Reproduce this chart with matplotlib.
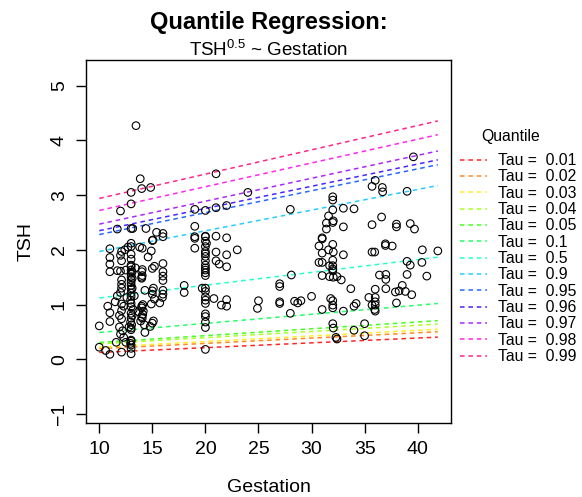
import matplotlib
matplotlib.use("Agg")
import matplotlib.pyplot as plt
import numpy as np

plt.rcParams['font.family'] = ['Liberation Sans', 'DejaVu Sans']
plt.rcParams['mathtext.fontset'] = 'custom'
plt.rcParams['mathtext.rm'] = 'Liberation Sans'
plt.rcParams['mathtext.default'] = 'regular'

# observations: gestation (weeks) and sqrt(TSH)
gestation = [
    # 10 - 11
    10.0, 10.0, 10.6, 11.0, 11.0, 11.0, 11.0, 11.0, 10.8, 11.0, 11.0,
    # 11.5 - 12.5
    11.7, 12.0, 12.1, 12.4, 12.1, 11.7, 12.0, 12.5, 12.1, 12.1, 12.1, 11.7, 12.6, 11.5,
    12.1, 12.3, 12.1, 11.9, 12.2, 12.0, 11.6, 12.5, 12.1, 12.0, 11.9, 12.1, 12.0, 12.3,
    # 13
    13.0, 13.0, 13.0, 13.15, 13.46, 12.7, 13.0, 13.0, 13.0, 13.0, 13.0, 13.0, 13.0, 13.0,
    13.0, 13.0, 13.0, 13.0, 13.0, 13.0, 13.0, 13.3, 12.95, 13.0, 13.0, 13.2, 13.0, 13.0,
    12.95, 13.05, 12.8, 13.0, 13.0, 13.0, 13.0, 12.95, 13.0, 13.0, 13.0, 13.4, 13.1, 13.1,
    13.1, 13.1,
    # 14
    13.86, 14.0, 14.4, 13.8, 14.05, 14.05, 14.05, 14.0, 14.3, 13.7, 14.0, 14.15, 14.0,
    14.05, 14.25, 14.3, 14.0, 14.0, 14.1, 14.0, 14.1, 13.9,
    # 15
    14.84, 15.4, 15.06, 14.6, 15.0, 15.2, 15.0, 14.9, 15.0, 15.1, 15.0, 14.9, 15.1, 15.0,
    15.2, 14.8,
    # 16
    16.0, 16.0, 16.0, 16.0, 16.0, 15.95, 15.7, 16.0, 16.0, 16.0,
    # 18 - 19
    18.0, 18.0, 19.0, 19.0, 19.0, 19.0, 19.0, 19.7,
    # 20
    20.0, 20.0, 20.0, 20.0, 20.0, 20.0, 20.0, 20.0, 20.0, 20.0, 20.0, 20.0, 20.0, 20.0,
    20.0, 20.0, 20.0, 20.0, 20.0, 20.0, 20.0, 20.0, 20.1, 20.0, 20.0,
    # 21 - 25
    21.0, 21.0, 21.0, 21.0, 21.0, 20.8, 21.3, 21.5, 22.0, 22.0, 22.0, 22.0, 22.0, 22.0,
    23.0, 24.0, 24.9, 25.0,
    # 27 - 30
    27.0, 27.0, 27.0, 27.0, 28.0, 28.1, 28.0, 28.4, 28.7, 29.0, 30.0,
    # 31
    30.7, 31.0, 31.0, 30.7, 31.0, 31.0, 31.0, 31.0, 31.6, 31.4, 31.4, 31.6, 31.7, 31.7, 31.8,
    # 32
    32.0, 32.0, 32.0, 32.05, 32.0, 32.0, 32.05, 32.0, 32.0, 32.0, 32.0, 32.05, 32.4, 32.8,
    32.0, 32.0, 32.0, 32.0, 32.05, 32.3, 32.4,
    # 33 - 35
    33.0, 33.0, 33.0, 33.0, 33.7, 34.0, 34.0, 34.2, 34.0, 35.0, 35.0, 35.4,
    # 36
    35.7, 36.0, 35.7, 35.7, 35.95, 36.0, 36.0, 35.7, 36.0, 35.95, 36.0, 36.0, 36.4,
    # 37
    36.67, 36.7, 36.6, 36.96, 36.96, 37.6, 37.0, 37.0, 37.0,
    # 38 - 42
    38.0, 38.0, 38.0, 37.9, 38.25, 38.55,
    39.0, 39.6, 39.3, 39.7, 39.0, 39.3, 39.0, 38.84, 39.44,
    40.44, 40.4, 40.86, 41.9,
]
tsh = [
    # 10 - 11
    0.61, 0.22, 0.16, 0.09, 2.02, 1.86, 1.74, 1.60, 0.97, 0.85, 0.69,
    # 11.5 - 12.5
    2.38, 2.71, 1.97, 2.00, 1.80, 1.62, 1.61, 1.63, 1.45, 1.37, 1.30, 1.16, 1.13, 1.05,
    1.01, 0.97, 0.89, 0.59, 0.52, 0.46, 0.31, 0.31, 0.13, 1.22, 0.80, 0.74, 1.90, 0.40,
    # 13
    3.05, 2.84, 2.39, 2.39, 4.27, 2.05, 2.12, 2.06, 1.92, 1.83, 1.72, 1.69, 1.63, 1.57,
    1.51, 1.45, 1.40, 1.35, 1.28, 1.21, 1.15, 1.16, 1.08, 1.02, 0.96, 0.91, 0.84, 0.75,
    0.68, 0.63, 0.59, 0.57, 0.54, 0.35, 0.33, 0.29, 0.26, 0.20, 0.10, 1.67, 1.60, 1.48,
    1.30, 0.80,
    # 14
    3.30, 3.12, 2.39, 2.05, 2.03, 1.64, 1.53, 1.48, 1.26, 0.87, 0.94, 0.88, 0.78,
    0.75, 0.63, 0.49, 1.60, 1.50, 1.00, 0.97, 0.82, 0.70,
    # 15
    3.14, 2.32, 2.18, 1.87, 1.66, 1.70, 1.19, 1.01, 0.66, 0.70, 2.17, 1.98, 1.30, 1.25,
    1.10, 0.60,
    # 16
    2.24, 1.75, 1.60, 1.44, 1.19, 1.13, 1.03, 2.30, 1.52, 1.26,
    # 18 - 19
    1.35, 1.22, 2.74, 2.43, 2.24, 2.21, 2.03, 1.30,
    # 20
    2.72, 2.25, 2.16, 2.06, 1.97, 1.88, 1.72, 1.67, 1.63, 1.58, 1.53, 1.30, 1.24, 1.14,
    1.08, 1.02, 0.83, 0.78, 0.68, 0.58, 0.18, 2.24, 2.12, 1.93, 1.80,
    # 21 - 25
    3.39, 2.77, 2.25, 1.96, 1.80, 1.11, 1.74, 0.99, 2.81, 2.22, 1.91, 1.69, 1.09, 0.97,
    2.00, 3.05, 0.93, 1.07,
    # 27 - 30
    1.38, 1.33, 1.05, 1.02, 2.74, 1.54, 0.84, 1.06, 1.03, 1.07, 1.15,
    # 31
    2.07, 2.20, 2.22, 1.77, 1.77, 1.94, 1.53, 0.91, 2.62, 2.49, 2.38, 2.00, 1.71, 1.51, 1.11,
    # 32
    2.97, 2.91, 2.73, 2.53, 2.50, 2.10, 1.96, 1.81, 1.71, 1.65, 1.62, 1.50, 1.51, 1.45,
    1.07, 0.99, 0.94, 0.65, 0.57, 0.40, 0.37,
    # 33 - 35
    2.76, 2.42, 1.91, 0.88, 1.29, 2.75, 0.97, 1.02, 0.53, 0.65, 0.43, 1.13,
    # 36
    3.16, 3.27, 2.46, 1.96, 1.96, 1.13, 1.05, 0.99, 0.99, 0.91, 0.88, 1.28, 1.54,
    # 37
    3.14, 3.06, 2.60, 2.11, 2.08, 2.07, 1.55, 1.46, 1.29,
    # 38 - 42
    2.47, 2.42, 1.03, 1.23, 1.25, 1.35,
    3.07, 3.70, 2.48, 2.38, 1.79, 1.72, 1.55, 1.24, 1.18,
    2.00, 1.77, 1.52, 1.98,
]

# fitted quantile lines: tsh = intercept + slope * gestation
taus = [0.01, 0.02, 0.03, 0.04, 0.05, 0.1, 0.5, 0.9, 0.95, 0.96, 0.97, 0.98, 0.99]
intercepts = [0.036, 0.096, 0.117, 0.169, 0.182, 0.324, 0.886, 1.592, 1.880, 1.944, 2.051, 2.286, 2.496]
slopes = [0.0088, 0.0097, 0.0103, 0.0113, 0.0125, 0.0166, 0.0234, 0.0378, 0.0400, 0.0406, 0.0419, 0.0434, 0.0444]
colors = ['#FF0000', '#FF7600', '#FFEB00', '#9DFF00', '#27FF00', '#00FF4E', '#00FFC4',
          '#00C4FF', '#004EFF', '#2700FF', '#9D00FF', '#FF00EB', '#FF0076']

fig = plt.figure(figsize=(5.82, 4.97), dpi=100)
ax = fig.add_axes([86 / 582, 1 - 423 / 497, 365 / 582, 363 / 497])

ax.scatter(gestation, tsh, s=30, facecolors='none', edgecolors='black', linewidths=0.8, zorder=3)

xs = np.array([min(gestation), max(gestation)])
handles = []
for tau, a, b, col in zip(taus, intercepts, slopes, colors):
    ln, = ax.plot(xs, a + b * xs, color=col, alpha=0.85, lw=1.1, ls=(0, (3, 2.5)),
                  label="Tau =  " + str(tau))
    handles.append(ln)

ax.set_xlim(8.75, 43.14)
ax.set_ylim(-1.165, 5.47)
ax.set_xticks([10, 15, 20, 25, 30, 35, 40])
ax.set_yticks([-1, 0, 1, 2, 3, 4, 5])
ax.tick_params(direction='out', length=7, width=1, labelsize=14, pad=6)
for lab in ax.get_yticklabels():
    lab.set_rotation(90)
    lab.set_verticalalignment('center')
for sp in ax.spines.values():
    sp.set_linewidth(1)

ax.set_xlabel("Gestation", fontsize=14, labelpad=15)
ax.set_ylabel("TSH", fontsize=14, labelpad=12)

fig.text(268.5 / 582, 1 - 22 / 497, "Quantile Regression:", ha='center', va='center',
         fontsize=17, fontweight='bold')
fig.text(268.5 / 582, 1 - 50 / 497, r"TSH$^{0.5}$ ~ Gestation", ha='center', va='center',
         fontsize=13.5)

fig.text(511 / 582, 1 - 137 / 497, "Quantile", ha='center', va='center', fontsize=11.3)
leg = ax.legend(handles=handles, loc='upper left', bbox_to_anchor=(460 / 582, 1 - 153 / 497),
                bbox_transform=fig.transFigure, frameon=False,
                fontsize=11.3, handlelength=1.7, handletextpad=0.7,
                labelspacing=0.085, borderpad=0, borderaxespad=0)

plt.savefig("out.png", dpi=100)
